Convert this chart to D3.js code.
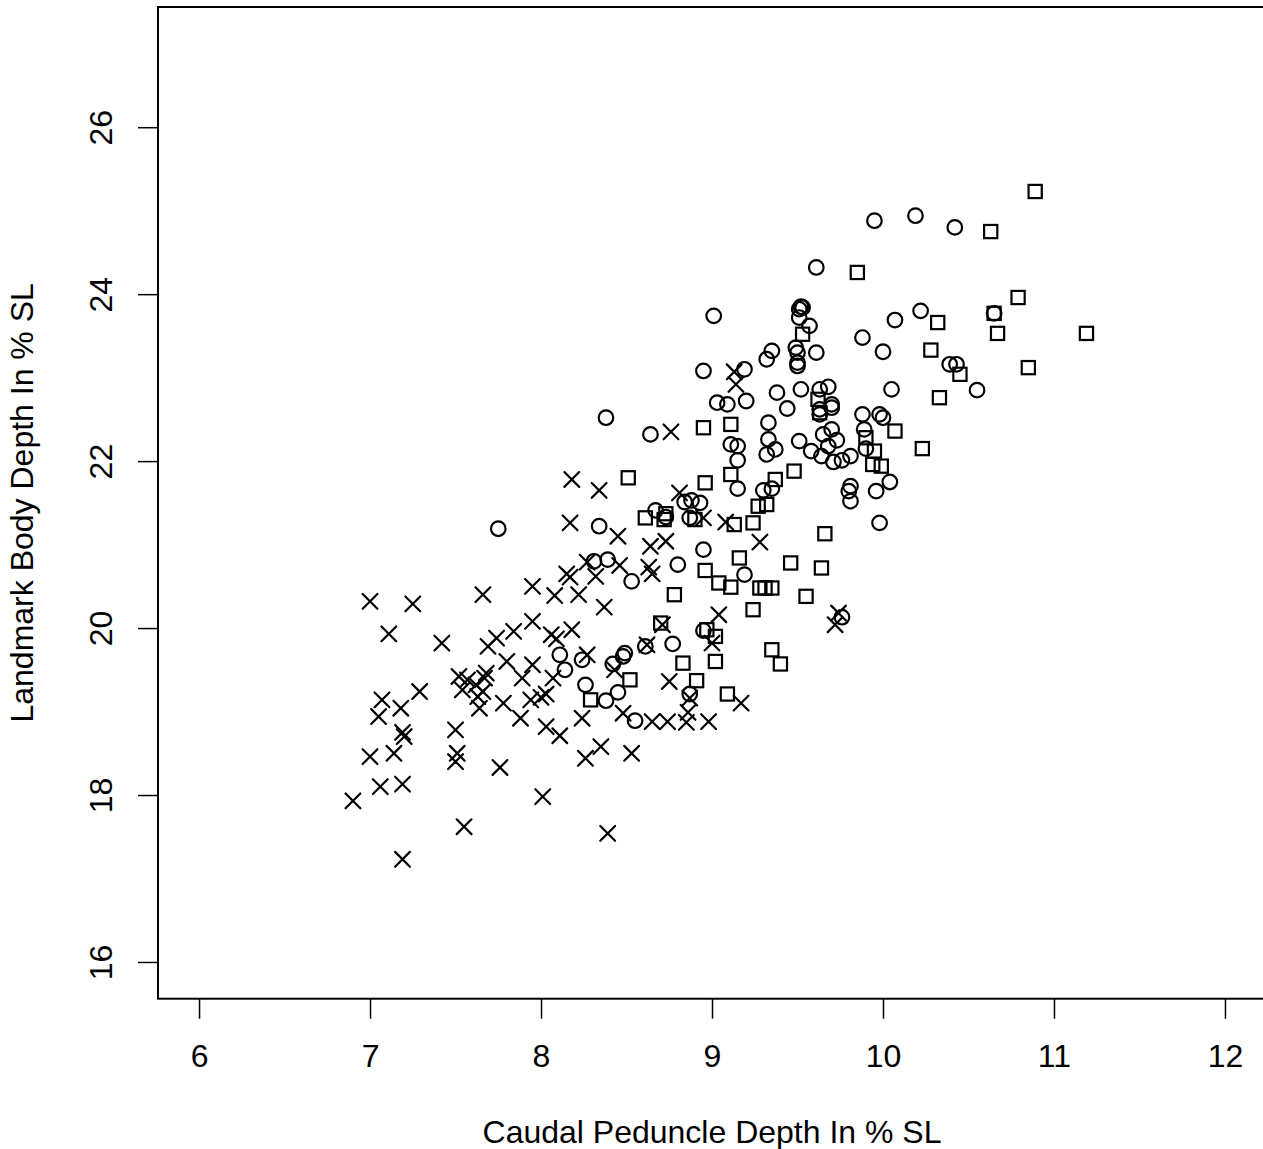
<!DOCTYPE html>
<html>
<head>
<meta charset="utf-8">
<script src="https://cdn.jsdelivr.net/npm/d3@7"></script>
<style>
  body { margin: 0; background: #fff; }
  svg text { font-family: "Liberation Sans", Arial, Helvetica, sans-serif; fill: #000; }
</style>
</head>
<body>
<script>
// axis ticks
var xTicks = [6, 7, 8, 9, 10, 11, 12];
var yTicks = [16, 18, 20, 22, 24, 26];

// group drawn with crosses (pch 4)
var crosses = [
  [6.90,17.93],[7.00,20.32],[7.11,19.93],[7.25,20.29],[7.42,19.82],[7.66,20.40],[7.95,20.50],
  [8.08,20.39],[8.22,20.40],[8.15,20.65],[8.17,20.61],[8.32,20.62],[7.69,19.78],[7.74,19.88],
  [7.84,19.96],[7.95,20.08],[8.06,19.92],[8.09,19.87],[8.18,19.98],[7.80,19.60],[7.95,19.56],
  [7.89,19.40],[8.07,19.40],[7.52,19.42],[7.57,19.38],[7.62,19.32],[7.67,19.40],[7.66,19.24],
  [7.63,19.18],[7.54,19.26],[7.64,19.04],[7.68,19.46],[7.78,19.10],[7.94,19.14],[8.00,19.17],
  [8.03,19.21],[7.88,18.92],[8.03,18.82],[8.11,18.71],[8.24,18.92],[8.26,18.44],[7.07,19.14],
  [7.05,18.94],[7.18,19.04],[7.29,19.24],[7.19,18.75],[7.20,18.70],[7.00,18.46],[7.14,18.50],
  [7.50,18.78],[7.51,18.50],[7.50,18.40],[7.76,18.33],[7.06,18.10],[7.19,18.13],[7.55,17.62],
  [7.19,17.23],[8.01,17.98],[8.39,17.54],[8.35,18.58],[8.53,18.50],[8.18,21.78],[8.34,21.65],
  [8.17,21.26],[8.45,21.10],[8.76,22.35],[9.14,22.92],[9.13,23.07],[8.81,21.62],[8.95,21.32],
  [9.08,21.27],[8.64,20.98],[8.73,21.04],[9.28,21.03],[8.27,20.79],[8.46,20.75],[8.63,20.73],
  [8.65,20.65],[8.37,20.25],[9.04,20.16],[9.74,20.18],[9.72,20.04],[8.71,20.04],[8.62,19.80],
  [9.00,19.82],[8.27,19.68],[8.43,19.50],[8.75,19.36],[9.17,19.10],[8.87,19.16],[8.86,18.99],
  [8.85,18.87],[8.48,18.98],[8.65,18.88],[8.74,18.88],[8.98,18.88]
];

// group drawn with circles (pch 1)
var circles = [
  [9.95,24.88],[10.19,24.94],[10.42,24.80],[9.61,24.32],[10.07,23.69],[10.22,23.80],[9.88,23.48],
  [10.00,23.31],[10.39,23.16],[10.43,23.16],[10.65,23.77],[9.53,23.84],[9.51,23.82],[9.51,23.72],
  [9.57,23.62],[9.61,23.30],[9.01,23.74],[9.35,23.32],[9.32,23.22],[9.49,23.36],[9.50,23.30],
  [9.50,23.18],[9.50,23.14],[10.05,22.86],[9.19,23.10],[8.95,23.08],[9.03,22.70],[9.09,22.68],
  [9.20,22.72],[9.38,22.82],[9.52,22.86],[9.44,22.63],[9.63,22.86],[9.68,22.89],[9.70,22.68],
  [9.70,22.64],[9.63,22.62],[9.63,22.56],[9.88,22.56],[9.98,22.56],[10.00,22.52],[9.33,22.46],
  [9.89,22.38],[9.11,22.20],[9.15,22.18],[9.33,22.26],[9.37,22.14],[9.32,22.08],[9.51,22.24],
  [9.65,22.32],[9.70,22.38],[9.73,22.25],[9.68,22.18],[9.58,22.12],[9.64,22.06],[9.71,21.99],
  [9.76,22.01],[9.81,22.06],[9.90,22.15],[9.15,22.01],[9.15,21.67],[9.30,21.65],[9.35,21.67],
  [8.93,21.50],[9.81,21.70],[9.80,21.64],[9.81,21.52],[9.96,21.64],[10.04,21.75],[9.98,21.26],
  [8.38,22.52],[8.64,22.32],[8.88,21.53],[8.84,21.51],[8.67,21.41],[8.73,21.33],[8.87,21.32],
  [8.34,21.22],[8.95,20.94],[8.80,20.76],[8.31,20.80],[8.39,20.82],[9.19,20.64],[8.53,20.56],
  [8.11,19.68],[8.14,19.50],[8.24,19.62],[8.26,19.32],[8.61,19.78],[8.77,19.81],[8.95,19.97],
  [8.49,19.70],[8.48,19.66],[8.42,19.57],[8.45,19.23],[8.38,19.13],[8.87,19.21],[8.55,18.89],
  [9.76,20.13],[7.75,21.19],[10.55,22.85],[9.52,23.85]
];

// group drawn with squares (pch 0)
var squares = [
  [10.89,25.23],[10.63,24.75],[9.85,24.26],[10.79,23.96],[10.65,23.77],[10.67,23.53],[11.19,23.53],
  [10.32,23.66],[10.28,23.33],[10.85,23.12],[10.45,23.04],[9.53,23.52],[10.33,22.76],[9.62,22.74],
  [9.63,22.58],[9.11,22.44],[8.95,22.40],[10.07,22.36],[9.90,22.28],[9.95,22.12],[9.94,21.96],
  [9.99,21.94],[10.23,22.15],[9.11,21.84],[8.96,21.74],[9.48,21.88],[9.37,21.78],[9.27,21.46],
  [9.32,21.48],[9.24,21.26],[9.13,21.24],[9.66,21.13],[8.51,21.80],[8.61,21.32],[8.72,21.30],
  [8.73,21.37],[8.90,21.30],[9.16,20.84],[9.46,20.78],[9.64,20.72],[8.96,20.69],[9.04,20.54],
  [9.11,20.49],[8.78,20.40],[9.28,20.48],[9.31,20.48],[9.35,20.48],[9.55,20.38],[9.24,20.22],
  [8.70,20.06],[8.97,19.98],[9.02,19.90],[9.35,19.74],[9.40,19.57],[8.83,19.58],[9.02,19.60],
  [8.52,19.38],[8.91,19.37],[8.29,19.14],[9.09,19.21]
];

var xTitle = "Caudal Peduncle Depth In % SL";
var yTitle = "Landmark Body Depth In % SL";

var W = 1263, H = 1149;
var plot = {left: 158, right: 1266, top: 7, bottom: 998.7};
var fontSize = "32px";

var x = d3.scaleLinear().domain([5.76, 12.24]).range([plot.left, plot.right]);
var y = d3.scaleLinear().domain([15.56, 27.44]).range([plot.bottom, plot.top]);

var svg = d3.select("body").append("svg")
    .attr("width", W)
    .attr("height", H);

// box round the plot region
svg.append("rect")
    .attr("x", plot.left)
    .attr("y", plot.top)
    .attr("width", plot.right - plot.left)
    .attr("height", plot.bottom - plot.top)
    .attr("fill", "none")
    .attr("stroke", "#000")
    .attr("stroke-width", 2);

// x axis
var gX = svg.append("g")
    .attr("transform", "translate(0," + plot.bottom + ")")
    .call(d3.axisBottom(x).tickValues(xTicks).tickSize(20).tickFormat(d3.format("d")));
gX.select(".domain").remove();
gX.selectAll(".tick line").attr("stroke", "#000").attr("stroke-width", 1.5);
gX.selectAll(".tick text")
    .attr("y", 68).attr("dy", 0)
    .style("font-size", fontSize);

// y axis, labels turned like R's las=0
var gY = svg.append("g")
    .attr("transform", "translate(" + plot.left + ",0)")
    .call(d3.axisLeft(y).tickValues(yTicks).tickSize(20).tickFormat(d3.format("d")));
gY.select(".domain").remove();
gY.selectAll(".tick line").attr("stroke", "#000").attr("stroke-width", 1.5);
gY.selectAll(".tick text")
    .attr("x", 0).attr("y", 0).attr("dy", 0)
    .attr("text-anchor", "middle")
    .attr("transform", "translate(-46,0) rotate(-90)")
    .style("font-size", fontSize);

// axis titles
svg.append("text")
    .attr("x", (plot.left + plot.right) / 2)
    .attr("y", 1143)
    .attr("text-anchor", "middle")
    .style("font-size", fontSize)
    .text(xTitle);

svg.append("text")
    .attr("transform", "translate(33," + (plot.top + plot.bottom) / 2 + ") rotate(-90)")
    .attr("text-anchor", "middle")
    .style("font-size", fontSize)
    .text(yTitle);

var marks = svg.append("g")
    .attr("fill", "none")
    .attr("stroke", "#000")
    .attr("stroke-width", 2.2);

var rC = 7.3, hS = 6.6, hX = 7.4;

marks.selectAll("path.cross")
    .data(crosses)
  .enter().append("path")
    .attr("class", "cross")
    .attr("stroke-linecap", "round")
    .attr("d", function(d) {
      var cx = x(d[0]), cy = y(d[1]);
      return "M" + (cx - hX) + "," + (cy - hX) + "L" + (cx + hX) + "," + (cy + hX) +
             "M" + (cx - hX) + "," + (cy + hX) + "L" + (cx + hX) + "," + (cy - hX);
    });

marks.selectAll("circle")
    .data(circles)
  .enter().append("circle")
    .attr("cx", function(d) { return x(d[0]); })
    .attr("cy", function(d) { return y(d[1]); })
    .attr("r", rC);

marks.selectAll("rect")
    .data(squares)
  .enter().append("rect")
    .attr("x", function(d) { return x(d[0]) - hS; })
    .attr("y", function(d) { return y(d[1]) - hS; })
    .attr("width", 2 * hS)
    .attr("height", 2 * hS);
</script>
</body>
</html>
